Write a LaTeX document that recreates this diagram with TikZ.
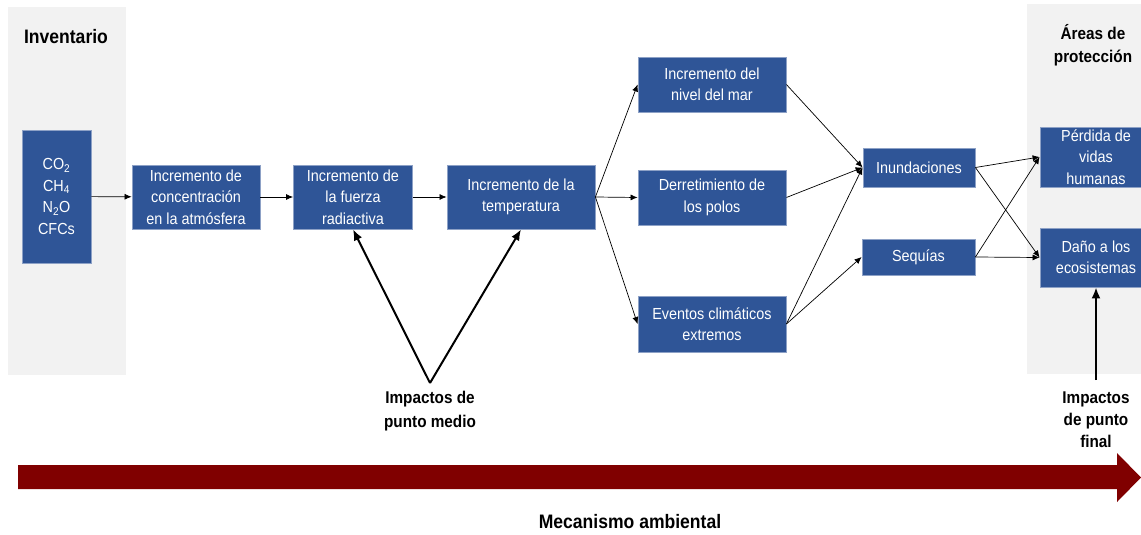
\documentclass[tikz,border=0pt]{standalone}
\usepackage{fontspec}
\setmainfont[FakeStretch=0.9]{Liberation Sans}
\usetikzlibrary{positioning, arrows.meta, shapes}
\definecolor{boxblue}{RGB}{47,85,151}
\definecolor{panelgray}{RGB}{242,242,242}
\definecolor{mechred}{RGB}{128,0,0}

\begin{document}
\begin{tikzpicture}[
    % GLOBAL CFG
    x=1pt, y=-1pt,
    >=LaTeX,
    % Styles
    blk/.style={% For the blue boxes
        rectangle,
        draw=boxblue!55!white,
        line width=0.8pt,
        fill=boxblue,
        text=white,
        inner sep=0pt,
        align=center,
        font=\fontsize{16}{21.5}\selectfont,
        },
    panel/.style={% For the grey side panels
        fill=panelgray,
        draw=none,
        },
    lbl/.style={% For the bold labels
        font=\fontsize{17}{23}\selectfont\bfseries,
        align=center,
        },
    ArrowT/.style={% Thin connectors
        -{LaTeX[length=7pt,width=6pt]},
        line width=0.7pt,
        },
    ArrowB/.style={% Thick impact arrows
        -{LaTeX[length=11pt,width=9pt]},
        line width=2pt,
        },
    ]
\useasboundingbox (0,0) rectangle (1141,535);
% Side panels
\fill[panel] (8,7) rectangle (126,375);
\fill[panel] (1027,4) rectangle (1152,374);
\node[lbl, font=\fontsize{19.5}{24}\selectfont\bfseries] (inv) at (66,37) {Inventario};
\node[lbl] (areas) at (1093,45) {Áreas de\\protección};
% Boxes
\node[blk, minimum width=69, minimum height=133] (gas) at (56.5,196.5)
    {CO\textsubscript{2}\\CH\textsubscript{4}\\N\textsubscript{2}O\\CFCs};
\node[blk, minimum width=128, minimum height=64] (conc) at (196,197)
    {Incremento de\\concentración\\en la atmósfera};
\node[blk, minimum width=119, minimum height=64] (fuerza) at (353,197)
    {Incremento de\\la fuerza\\radiactiva};
\node[blk, minimum width=148, minimum height=64] (temp) at (521,197)
    {Incremento de la\\temperatura};
\node[blk, minimum width=148, minimum height=55] (mar) at (712,84.5)
    {Incremento del\\nivel del mar};
\node[blk, minimum width=148, minimum height=55] (polos) at (712,197.5)
    {Derretimiento de\\los polos};
\node[blk, minimum width=148, minimum height=56] (eventos) at (712,324)
    {Eventos climáticos\\extremos};
\node[blk, minimum width=112, minimum height=39] (inund) at (919,167.5) {Inundaciones};
\node[blk, minimum width=113, minimum height=36] (sequia) at (918.5,257) {Sequías};
\node[blk, minimum width=112, minimum height=60] (vidas) at (1096,157)
    {Pérdida de\\vidas\\humanas};
\node[blk, minimum width=112, minimum height=59] (eco) at (1096,257.5)
    {Daño a los\\ecosistemas};
% Impact labels
\node[lbl, font=\fontsize{17}{24.5}\selectfont\bfseries] (medio) at (430,411) {Impactos de\\punto medio};
\node[lbl, font=\fontsize{17}{22}\selectfont\bfseries] (final) at (1096,420) {Impactos\\de punto\\final};
\coordinate (mp) at (430,383);
\coordinate (fp) at (1096,380);
% Connectors
\draw[ArrowT] (gas) -- (conc);
\draw[ArrowT] (conc) -- (fuerza);
\draw[ArrowT] (fuerza) -- (temp);
\draw[ArrowT] (temp.east) -- (mar.west);
\draw[ArrowT] (temp.east) -- (polos.west);
\draw[ArrowT] (temp.east) -- (eventos.west);
\draw[ArrowT] (mar.east) -- (inund.west);
\draw[ArrowT] (polos.east) -- (inund.west);
\draw[ArrowT] (eventos.east) -- (inund.west);
\draw[ArrowT] (eventos.east) -- (sequia.west);
\draw[ArrowT] (inund.east) -- (vidas.west);
\draw[ArrowT] (inund.east) -- (eco.west);
\draw[ArrowT] (sequia.east) -- (vidas.west);
\draw[ArrowT] (sequia.east) -- (eco.west);
\draw[ArrowB] (mp) -- (fuerza.south);
\draw[ArrowB] (mp) -- (temp.south);
\draw[ArrowB] (fp) -- (eco.south);
% Environmental mechanism arrow
\fill[mechred] (18,465) -- (1117,465) -- (1117,453) -- (1141,477.5)
    -- (1117,502) -- (1117,489) -- (18,489) -- cycle;
\node[lbl, font=\fontsize{19.5}{24}\selectfont\bfseries] (mec) at (630,522) {Mecanismo ambiental};
\end{tikzpicture}
\end{document}
